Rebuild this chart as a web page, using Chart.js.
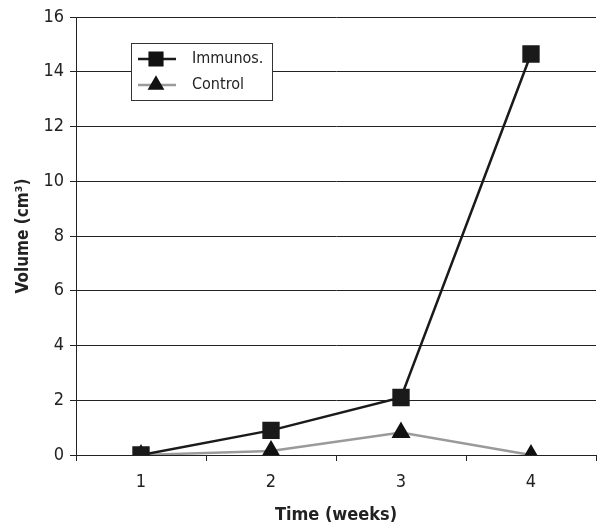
<!DOCTYPE html>
<html>
<head>
<meta charset="utf-8">
<script src="https://cdn.jsdelivr.net/npm/chart.js@4.4.1/dist/chart.umd.min.js"></script>
<style>
  html, body { margin: 0; padding: 0; background: #fff; }
  #wrap { width: 609px; height: 530px; position: relative; }
</style>
</head>
<body>
<div id="wrap"><canvas id="chart" width="609" height="530"></canvas></div>
<script>
const weeks = ['1', '2', '3', '4'];
const immunos = [0, 0.9, 2.1, 14.65];
const control = [0, 0.15, 0.82, 0];
const yTicks = [0, 2, 4, 6, 8, 10, 12, 14, 16];

const FONT = "'Liberation Sans Narrow', 'DejaVu Sans Condensed', 'Roboto', sans-serif";

// legend drawn inside the plot, like the original
const boxLegend = {
    id: 'boxLegend',
    afterDatasetsDraw(chart) {
        const ctx = chart.ctx;
        const x = 131, y = 43, w = 141, h = 57;
        ctx.save();
        ctx.fillStyle = '#fff';
        ctx.fillRect(x, y, w, h);
        ctx.strokeStyle = '#333';
        ctx.lineWidth = 1;
        ctx.strokeRect(x + 0.5, y + 0.5, w, h);
        chart.data.datasets.forEach((ds, i) => {
            const cy = y + 16 + i * 26;
            ctx.strokeStyle = ds.borderColor;
            ctx.lineWidth = 2.5;
            ctx.beginPath();
            ctx.moveTo(x + 7, cy);
            ctx.lineTo(x + 45, cy);
            ctx.stroke();
            ctx.fillStyle = '#111';
            ctx.strokeStyle = '#111';
            Chart.helpers.drawPoint(ctx, {
                pointStyle: ds.pointStyle,
                radius: ds.pointRadius * 0.85,
                borderWidth: 1
            }, x + 25, cy);
            ctx.fillStyle = '#222';
            ctx.font = '16px ' + FONT;
            ctx.textBaseline = 'middle';
            ctx.fillText(ds.label, x + 61, cy);
        });
        ctx.restore();
    }
};

new Chart(document.getElementById('chart'), {
    type: 'line',
    data: {
        labels: weeks,
        datasets: [
            {
                label: 'Immunos.',
                data: immunos,
                borderColor: '#1a1a1a',
                backgroundColor: '#1a1a1a',
                borderWidth: 2.5,
                pointStyle: 'rect',
                pointRadius: 10.5,
                pointBackgroundColor: '#1a1a1a',
                pointBorderColor: '#1a1a1a',
                tension: 0,
                order: 1
            },
            {
                label: 'Control',
                data: control,
                borderColor: '#9a9a9a',
                backgroundColor: '#111',
                borderWidth: 2.5,
                pointStyle: 'triangle',
                pointRadius: 8.5,
                pointBackgroundColor: '#111',
                pointBorderColor: '#111',
                tension: 0,
                order: 2
            }
        ]
    },
    options: {
        responsive: false,
        animation: false,
        devicePixelRatio: 1,
        layout: { padding: { top: 17, right: 12, left: 0, bottom: 0 } },
        plugins: {
            legend: { display: false },
            tooltip: { enabled: false }
        },
        scales: {
            x: {
                offset: true,
                grid: {
                    offset: true,
                    drawOnChartArea: false,
                    color: '#222',
                    tickLength: 6
                },
                border: { color: '#222', width: 1 },
                ticks: {
                    color: '#222',
                    font: { family: FONT, size: 18 },
                    padding: 11
                },
                title: {
                    display: true,
                    text: 'Time (weeks)',
                    color: '#222',
                    font: { family: FONT, size: 18, weight: 'bold' },
                    padding: { top: 12 }
                },
                afterFit(scale) { scale.height = 75; }
            },
            y: {
                min: 0,
                max: 16,
                afterBuildTicks(scale) {
                    scale.ticks = yTicks.map(v => ({ value: v }));
                },
                grid: {
                    color: '#222',
                    lineWidth: 1,
                    tickLength: 6
                },
                border: { color: '#222', width: 1 },
                ticks: {
                    color: '#222',
                    autoSkip: false,
                    font: { family: FONT, size: 18 },
                    padding: 6
                },
                title: {
                    display: true,
                    text: 'Volume (cm³)',
                    color: '#222',
                    font: { family: FONT, size: 17, weight: 'bold' },
                    padding: { top: 13, bottom: 4 }
                },
                afterFit(scale) { scale.width = 76; }
            }
        }
    },
    plugins: [boxLegend]
});
</script>
</body>
</html>
